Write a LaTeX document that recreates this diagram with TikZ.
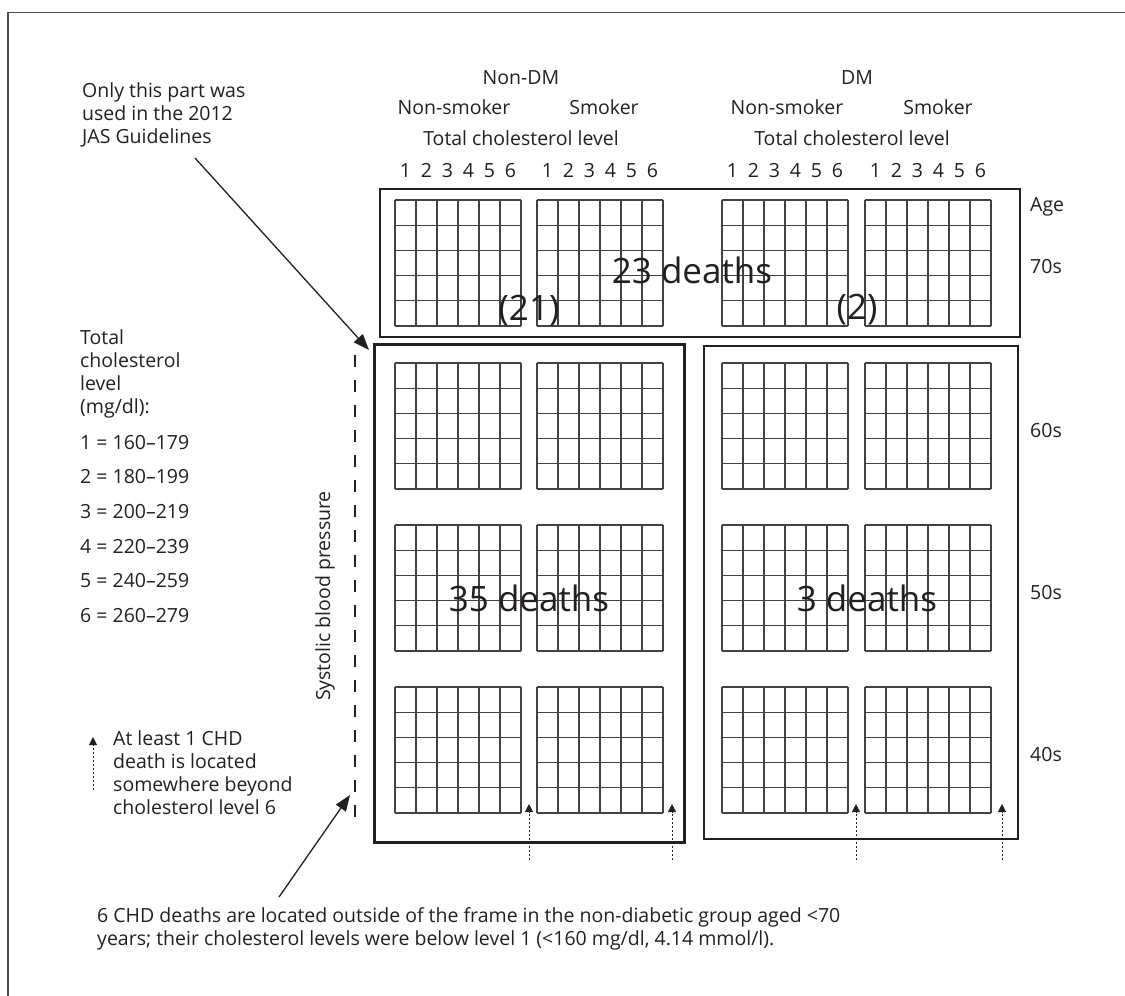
\documentclass[tikz,border=0pt]{standalone}
\usepackage{fontspec}
\setmainfont{Open Sans}
\usetikzlibrary{arrows.meta}
\definecolor{ink}{HTML}{231F20}
\newcommand\chdgrid[2]{%
  \foreach \i in {0,...,6} {\draw[gl] ({#1+21*\i},#2) -- ++(0,126);}
  \foreach \j in {0,...,5} {\draw[gl] (#1,{#2+25.2*\j}) -- ++(126,0);}
}
\begin{document}
\begin{tikzpicture}[x=1pt,y=-1pt,
  t/.style={inner sep=0pt, text=ink, font=\fontsize{19.5}{23}\selectfont},
  tl/.style={t, anchor=base west},
  tc/.style={t, anchor=base},
  big/.style={inner sep=0pt, text=ink, anchor=base, font=\fontsize{35}{40}\selectfont},
  gl/.style={line width=1.1pt, draw=ink!85},
  boxthin/.style={draw=ink, line width=1.5pt, inner sep=0pt, anchor=north west},
  boxthick/.style={draw=ink, line width=3pt, inner sep=0pt, anchor=north west},
  bigarr/.style={draw=ink, line width=1.3pt, -{Triangle[length=16pt,width=12pt]}},
  dotarr/.style={draw=ink, line width=1pt, dash pattern=on 2pt off 2pt, -{Triangle[length=8pt,width=8pt]}},
  frame/.style={draw=ink!80, line width=1.5pt}
]
\useasboundingbox (0,0) rectangle (1125,996);
% outer frame (top and left)
\coordinate (fbl) at (8,996);
\coordinate (ftl) at (8,12.5);
\coordinate (ftr) at (1125,12.5);
\draw[frame] (fbl) -- (ftl) -- (ftr);

% boxes
\node[boxthin, minimum width=640, minimum height=148] (b70) at (379,188) {};
\node[boxthick, minimum width=310, minimum height=498] (bnd) at (373,343) {};
\node[boxthin, minimum width=314, minimum height=493] (bdm) at (703,345) {};

% grids
\foreach \gx in {395,537,722,865} {
  \foreach \gy in {200,363,525,687} {
    \chdgrid{\gx}{\gy}
  }
}

% column numbers
\foreach \gx in {395,537,722,865} {
  \foreach \k in {1,...,6} {
    \node[tc] (n\gx-\k) at ({\gx+10.5+21*(\k-1)},177) {\k};
  }
}

% headers
\node[tc] (hnd) at (521,84) {Non-DM};
\node[tc] (hdm) at (857,84) {DM};
\node[tc] (hns1) at (454,114) {Non-smoker};
\node[tc] (hs1) at (604,114) {Smoker};
\node[tc] (hns2) at (787,114) {Non-smoker};
\node[tc] (hs2) at (938,114) {Smoker};
\node[tc] (htc1) at (521,145) {Total cholesterol level};
\node[tc] (htc2) at (852,145) {Total cholesterol level};

% right labels
\node[tl] (age) at (1030,211) {Age};
\node[tl] (a70) at (1030,273) {70s};
\node[tl] (a60) at (1030,437) {60s};
\node[tl] (a50) at (1030,599) {50s};
\node[tl] (a40) at (1030,761) {40s};

% big labels
\node[big] (d23) at (692,283) {23 deaths};
\node[big] (d21) at (529,320) {(21)};
\node[big] (d2) at (857,319) {(2)};
\node[big] (d35) at (529,611) {35 deaths};
\node[big] (d3) at (867,611) {3 deaths};

% note top-left
\node[tl] (note1a) at (82,97) {Only this part was};
\node[tl] (note1b) at (82,120) {used in the 2012};
\node[tl] (note1c) at (82,143) {JAS Guidelines};
\coordinate (a1s) at (195,158);
\draw[bigarr] (a1s) -- ([shift={(-4,7)}]bnd.north west);

% legend
\node[tl] (lg1) at (80,344) {Total};
\node[tl] (lg2) at (80,367) {cholesterol};
\node[tl] (lg3) at (80,390) {level};
\node[tl] (lg4) at (80,413) {(mg/dl):};
\node[tl] (lv1) at (80,449) {1 = 160–179};
\node[tl] (lv2) at (80,483) {2 = 180–199};
\node[tl] (lv3) at (80,518) {3 = 200–219};
\node[tl] (lv4) at (80,553) {4 = 220–239};
\node[tl] (lv5) at (80,587) {5 = 240–259};
\node[tl] (lv6) at (80,622) {6 = 260–279};

% systolic blood pressure
\node[t, rotate=90] (sbp) at (325,596) {Systolic blood pressure};
\coordinate (dtop) at (355,355);
\coordinate (dbot) at (355,822);
\draw[draw=ink, line width=1.3pt, dash pattern=on 12pt off 13pt] (dtop) -- (dbot);

% legend dotted arrow
\coordinate (la0) at (93,790);
\coordinate (la1) at (93,737);
\draw[dotarr] (la0) -- (la1);
\node[tl] (ld1) at (113,745) {At least 1 CHD};
\node[tl] (ld2) at (113,768) {death is located};
\node[tl] (ld3) at (113,791) {somewhere beyond};
\node[tl] (ld4) at (113,814) {cholesterol level 6};

% dotted arrows below grids
\foreach \ax in {529,672,856,1002} {
  \coordinate (da\ax) at (\ax,860);
  \coordinate (dt\ax) at (\ax,804);
  \draw[dotarr] (da\ax) -- (dt\ax);
}

% bottom note
\node[tl] (bn1) at (97,922) {6 CHD deaths are located outside of the frame in the non-diabetic group aged <70};
\node[tl] (bn2) at (97,945) {years; their cholesterol levels were below level 1 (<160 mg/dl, 4.14 mmol/l).};
\coordinate (a2s) at (279,897);
\coordinate (a2e) at (350,795);
\draw[bigarr] (a2s) -- (a2e);
\end{tikzpicture}
\end{document}
